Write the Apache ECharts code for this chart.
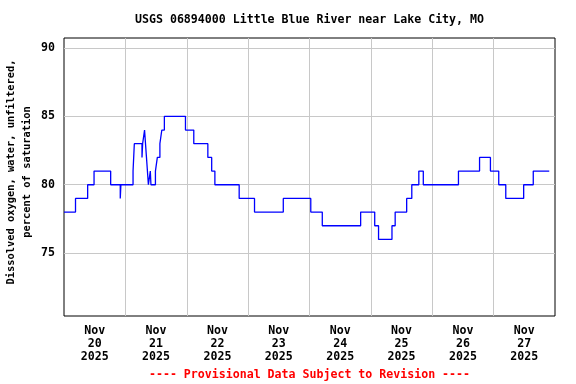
<!DOCTYPE html>
<html><head><meta charset="utf-8">
<script src="https://cdn.jsdelivr.net/npm/echarts@6/dist/echarts.min.js"></script>
<style>html,body{margin:0;padding:0;background:#fff}#c{width:576px;height:384px}</style>
</head><body><div id="c"></div>
<script>
const titleText = 'USGS 06894000 Little Blue River near Lake City, MO';
const yAxisTitle = 'Dissolved oxygen, water, unfiltered,\npercent of saturation';
const footerText = '---- Provisional Data Subject to Revision ----';
const dayLabels = ['Nov\n20\n2025','Nov\n21\n2025','Nov\n22\n2025','Nov\n23\n2025','Nov\n24\n2025','Nov\n25\n2025','Nov\n26\n2025','Nov\n27\n2025'];
const xStart = '2025-11-20 00:00';
const xEnd = '2025-11-28 00:00';
const yMin = 70.4;
const yMax = 90.73;
// change points: the value holds from this time until the next one
const times = [
  '2025-11-20 00:00','2025-11-20 04:30','2025-11-20 09:15','2025-11-20 11:45','2025-11-20 18:15','2025-11-20 22:00','2025-11-20 22:15',
  '2025-11-21 03:00','2025-11-21 03:15','2025-11-21 03:30','2025-11-21 06:30','2025-11-21 06:45','2025-11-21 07:30','2025-11-21 08:15','2025-11-21 09:00','2025-11-21 09:45','2025-11-21 10:00','2025-11-21 11:45','2025-11-21 12:30','2025-11-21 13:30','2025-11-21 14:15','2025-11-21 15:15','2025-11-21 23:30',
  '2025-11-22 02:45','2025-11-22 08:15','2025-11-22 09:45','2025-11-22 11:00','2025-11-22 20:30',
  '2025-11-23 02:30','2025-11-23 13:45',
  '2025-11-24 00:30','2025-11-24 05:00','2025-11-24 20:00',
  '2025-11-25 01:30','2025-11-25 03:00','2025-11-25 08:15','2025-11-25 09:30','2025-11-25 14:00','2025-11-25 16:00','2025-11-25 18:45','2025-11-25 20:30',
  '2025-11-26 10:15','2025-11-26 18:30','2025-11-26 22:45',
  '2025-11-27 02:00','2025-11-27 04:45','2025-11-27 11:45','2025-11-27 15:30','2025-11-27 21:45'
];
const values = [
  78,79,80,81,80,79,80,
  81,82,83,82,83,84,82,80,81,80,81,82,83,84,85,84,
  83,82,81,80,79,
  78,79,
  78,77,78,
  77,76,77,78,79,80,81,80,
  81,82,81,
  80,79,80,81,81
];

function toMs(s){
  const [d,t] = s.split(' ');
  const [Y,M,D] = d.split('-').map(Number);
  const [h,m] = t.split(':').map(Number);
  return Date.UTC(Y, M-1, D, h, m);
}
const font = 'DejaVu Sans Mono';
const chart = echarts.init(document.getElementById('c'), null, {renderer:'canvas'});
chart.setOption({
  animation: false,
  backgroundColor: '#fff',
  title: [
    {text: titleText, left: 309.5, top: 13.5, padding: 0, textAlign: 'center',
     textStyle: {fontFamily: font, fontWeight: 'bold', fontSize: 11.6, color: '#000'}},
    {text: footerText, left: 309.5, top: 369, padding: 0, textAlign: 'center',
     textStyle: {fontFamily: font, fontWeight: 'bold', fontSize: 11.6, color: '#ff0000'}}
  ],
  grid: {left: 64, right: 21, top: 38, bottom: 68, show: true, borderColor: '#000', borderWidth: 1, backgroundColor: 'transparent', containLabel: false, outerBoundsMode: 'none'},
  xAxis: [
    {type: 'value', min: toMs(xStart), max: toMs(xEnd), interval: 86400000,
     axisLine: {show: false, onZero: false}, axisTick: {show: false}, axisLabel: {show: false},
     splitLine: {show: true, showMinLine: false, showMaxLine: false, lineStyle: {color: '#c8c8c8', width: 1}}},
    {type: 'category', data: dayLabels, position: 'bottom', boundaryGap: true,
     axisLine: {show: false, onZero: false}, axisTick: {show: false}, splitLine: {show: false},
     axisLabel: {interval: 0, fontFamily: font, fontWeight: 'bold', fontSize: 11.6, color: '#000', lineHeight: 13, margin: 8}}
  ],
  yAxis: {
    type: 'value', min: yMin, max: yMax, splitNumber: 4,
    axisLine: {show: false}, axisTick: {show: false},
    axisLabel: {formatter: v => (Math.abs(v % 5) < 1e-6 ? String(v) : ''), fontFamily: font, fontWeight: 'bold', fontSize: 11.6, color: '#000', margin: 9},
    splitLine: {show: true, showMinLine: false, showMaxLine: false, lineStyle: {color: '#c8c8c8', width: 1}},
    name: yAxisTitle, nameLocation: 'middle', nameRotate: 90, nameGap: 29, nameMoveOverlap: false,
    nameTextStyle: {fontFamily: font, fontWeight: 'bold', fontSize: 10.4, color: '#000', lineHeight: 16, padding: [0, 0, 0, 10]}
  },
  series: [{
    type: 'line', xAxisIndex: 0, yAxisIndex: 0, step: 'end', symbol: 'none', showSymbol: false,
    lineStyle: {color: '#0000ff', width: 1.3}, z: 5,
    data: times.map((t, i) => [toMs(t), values[i]])
  }]
});
</script></body></html>
